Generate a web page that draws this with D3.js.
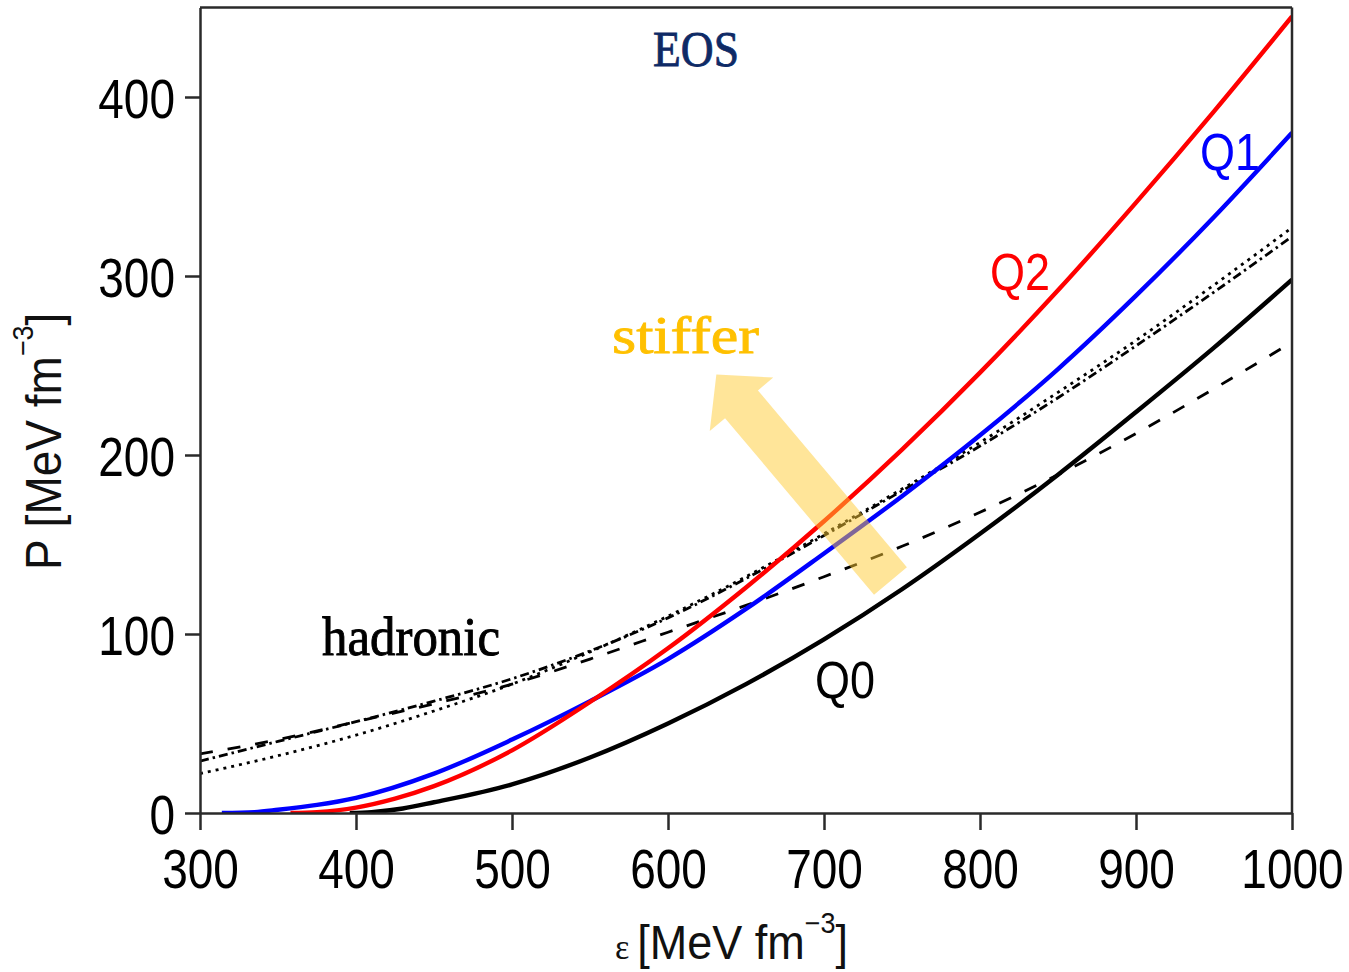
<!DOCTYPE html>
<html>
<head>
<meta charset="utf-8">
<script src="https://cdn.jsdelivr.net/npm/d3@7"></script>
<style>
  body { margin: 0; background: #fff; }
  svg { display: block; }
</style>
</head>
<body>
<svg id="chart" width="1349" height="972"></svg>
<script>
// Axis ticks
const xTicks = [300, 400, 500, 600, 700, 800, 900, 1000];
const xMinorTicks = [350, 450, 550, 650, 750, 850, 950];
const yTicks = [0, 100, 200, 300, 400];
const yMinorTicks = [50, 150, 250, 350, 450];

// Quark-hadron crossover EOS (solid curves): energy density and pressure, MeV fm^-3
const q0Energy = [396, 410, 430, 450, 500, 550, 600, 650, 700, 750, 800, 850, 900, 950, 1000];
const q0Pressure = [0, 0.5, 2.5, 6, 16, 31, 50, 72, 97, 125, 156, 189, 224, 260, 298];

const q1Energy = [314, 335, 350, 375, 400, 450, 500, 550, 600, 650, 700, 750, 800, 850, 900, 950, 1000];
const q1Pressure = [0, 0.5, 1.8, 4.5, 8.5, 22, 41, 62.5, 86, 114, 145, 177, 211, 248, 289, 333, 380];

const q2Energy = [358, 375, 400, 425, 450, 500, 550, 600, 650, 700, 750, 800, 850, 900, 950, 1000];
const q2Pressure = [0, 0.5, 3, 8, 15, 35, 62, 92, 126, 163, 203, 246, 292, 341, 392, 445];

// Hadronic EOS (black broken curves)
const hadEnergy = [300, 350, 400, 450, 500, 550, 600, 650, 700, 750, 800, 850, 900, 950, 1000];
const hadDotted = [22, 32, 43.5, 57, 72, 90, 110, 132, 156, 181, 207, 235, 264, 295, 327];
const hadDashDot = [29, 40, 51, 62.5, 75, 90.5, 109, 131, 155, 180, 205, 232, 261, 291, 322];
const hadLongDash = [33, 41, 51, 61, 72, 86, 101, 116, 132, 149, 168, 189, 212, 237, 263];

// Curve labels
const curveNames = ["Q0", "Q1", "Q2"];

// Arrow annotation: tail and head in data units
const arrowTail = [742.6, 129.6];
const arrowHead = [631, 245];

const svg = d3.select("#chart");

const plot = { left: 200, right: 1292, top: 7.5, bottom: 813 };
const x = d3.scaleLinear().domain([300, 1000]).range([plot.left, plot.right]);
const y = d3.scaleLinear().domain([0, 450]).range([plot.bottom, plot.top]);

const axisColor = "#2a2a2a";
const sans = "'Liberation Sans', Arial, Helvetica, sans-serif";
const serif = "'Liberation Serif', 'Times New Roman', serif";

svg.append("defs").append("clipPath").attr("id", "plotClip")
  .append("rect")
  .attr("x", plot.left).attr("y", plot.top)
  .attr("width", plot.right - plot.left).attr("height", plot.bottom - plot.top);

// ---- curves ----
const line = d3.line()
  .x(d => x(d[0]))
  .y(d => y(d[1]))
  .curve(d3.curveMonotoneX);

const zip = (a, b) => a.map((v, i) => [v, b[i]]);

const curves = svg.append("g").attr("clip-path", "url(#plotClip)");

const hadronicSeries = [
  { values: hadDotted, dash: "3,5" },
  { values: hadDashDot, dash: "9,4,2.5,4" },
  { values: hadLongDash, dash: "13,15" }
];
hadronicSeries.forEach(s => {
  curves.append("path")
    .datum(zip(hadEnergy, s.values))
    .attr("d", line)
    .attr("fill", "none")
    .attr("stroke", "#000")
    .attr("stroke-width", 2.8)
    .attr("stroke-dasharray", s.dash);
});

const quarkSeries = [
  { e: q0Energy, p: q0Pressure, color: "#000000" },
  { e: q1Energy, p: q1Pressure, color: "#0000ff" },
  { e: q2Energy, p: q2Pressure, color: "#ff0000" }
];
quarkSeries.forEach(s => {
  curves.append("path")
    .datum(zip(s.e, s.p))
    .attr("d", line)
    .attr("fill", "none")
    .attr("stroke", s.color)
    .attr("stroke-width", 4.4)
    .attr("stroke-linejoin", "round");
});

// ---- axes ----
function styleAxis(g) {
  g.selectAll("path, line").attr("stroke", axisColor).attr("stroke-width", 2.5);
}

const xAxisG = svg.append("g").attr("transform", `translate(0,${plot.bottom})`);
xAxisG.call(d3.axisBottom(x).tickValues(xMinorTicks).tickSize(10).tickSizeOuter(0).tickFormat(""));
xAxisG.call(d3.axisBottom(x).tickValues(xTicks).tickSize(17).tickSizeOuter(0).tickFormat(d3.format("d")));
styleAxis(xAxisG);
xAxisG.selectAll("text")
  .attr("y", null).attr("dy", null)
  .attr("transform", "translate(0,75) scale(1,1.2)")
  .attr("fill", "#000")
  .style("font-family", sans)
  .style("font-size", "46px");

const yAxisG = svg.append("g").attr("transform", `translate(${plot.left},0)`);
yAxisG.call(d3.axisLeft(y).tickValues(yMinorTicks).tickSize(9).tickSizeOuter(0).tickFormat(""));
yAxisG.call(d3.axisLeft(y).tickValues(yTicks).tickSize(15).tickSizeOuter(0).tickFormat(d3.format("d")));
styleAxis(yAxisG);
yAxisG.selectAll("text")
  .attr("x", null).attr("dy", null)
  .attr("transform", "translate(-25,20) scale(1,1.2)")
  .attr("fill", "#000")
  .style("font-family", sans)
  .style("font-size", "46px");

// frame: top and right edges
svg.append("line")
  .attr("x1", x(300)).attr("x2", x(1000))
  .attr("y1", y(450)).attr("y2", y(450))
  .attr("stroke", axisColor).attr("stroke-width", 2.5);
svg.append("line")
  .attr("x1", x(1000)).attr("x2", x(1000))
  .attr("y1", y(450)).attr("y2", y(0))
  .attr("stroke", axisColor).attr("stroke-width", 2.5);

// ---- axis titles ----
const xTitle = svg.append("text")
  .attr("transform", "translate(615,959) scale(1,1.06)")
  .attr("fill", "#111")
  .style("font-family", sans)
  .style("font-size", "45px");
xTitle.append("tspan").style("font-family", serif).style("font-size", "34px").text("ε");
xTitle.append("tspan").attr("dx", 8).text("[MeV fm");
xTitle.append("tspan").attr("dy", -25).style("font-size", "27px").text("−3");
xTitle.append("tspan").attr("dy", 25).text("]");

const yTitle = svg.append("text")
  .attr("transform", "translate(61,570) rotate(-90) scale(1,1.08)")
  .attr("fill", "#111")
  .style("font-family", sans)
  .style("font-size", "46px");
yTitle.append("tspan").text("P [MeV fm");
yTitle.append("tspan").attr("dy", -26).style("font-size", "27px").text("−3");
yTitle.append("tspan").attr("dy", 26).text("]");

// ---- curve labels ----
const labelColors = ["#000", "#0000ff", "#ff0000"];
const labelPos = [[815, 698], [1200, 170], [990, 290]];
curveNames.forEach((name, i) => {
  const [lx, ly] = labelPos[i];
  svg.append("text")
    .attr("transform", `translate(${lx},${ly}) scale(1,1.15)`)
    .attr("fill", labelColors[i])
    .style("font-family", sans)
    .style("font-size", "45px")
    .text(name);
});

// ---- annotations ----
svg.append("text")
  .attr("x", 696).attr("y", 66)
  .attr("text-anchor", "middle")
  .attr("fill", "#0e2a66")
  .attr("stroke", "#0e2a66")
  .attr("stroke-width", 0.8)
  .attr("textLength", 86)
  .attr("lengthAdjust", "spacingAndGlyphs")
  .style("font-family", serif)
  .style("font-size", "50px")
  .text("EOS");

svg.append("text")
  .attr("x", 322).attr("y", 655)
  .attr("textLength", 178)
  .attr("lengthAdjust", "spacingAndGlyphs")
  .attr("fill", "#000")
  .attr("stroke", "#000")
  .attr("stroke-width", 0.9)
  .style("font-family", serif)
  .style("font-size", "54px")
  .text("hadronic");

svg.append("text")
  .attr("x", 612).attr("y", 353)
  .attr("textLength", 147)
  .attr("lengthAdjust", "spacingAndGlyphs")
  .attr("fill", "#ffc000")
  .attr("stroke", "#ffc000")
  .attr("stroke-width", 0.8)
  .style("font-family", serif)
  .style("font-size", "52px")
  .text("stiffer");

// "stiffer" arrow built from the tail/head points through the scales
(function drawArrow() {
  const p0 = [x(arrowTail[0]), y(arrowTail[1])];
  const p1 = [x(arrowHead[0]), y(arrowHead[1])];
  const dx = p1[0] - p0[0], dy = p1[1] - p0[1];
  const len = Math.hypot(dx, dy);
  const u = [dx / len, dy / len];
  const n = [-u[1], u[0]];
  const shaftHalf = 21.5, headHalf = 41.5, headLen = 39;
  const neck = [p1[0] - u[0] * headLen, p1[1] - u[1] * headLen];
  const pt = (b, s) => [b[0] + n[0] * s, b[1] + n[1] * s];
  const poly = [
    pt(p0, shaftHalf), pt(neck, shaftHalf), pt(neck, headHalf),
    p1,
    pt(neck, -headHalf), pt(neck, -shaftHalf), pt(p0, -shaftHalf)
  ];
  svg.append("polygon")
    .attr("points", poly.map(p => p.join(",")).join(" "))
    .attr("fill", "#ffcc33")
    .attr("fill-opacity", 0.5);
})();
</script>
</body>
</html>
